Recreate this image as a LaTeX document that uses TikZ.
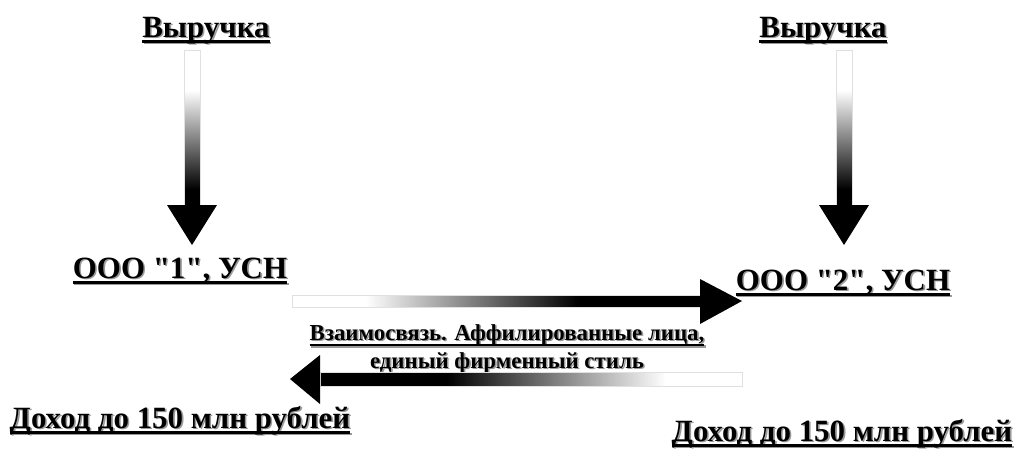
\documentclass[tikz,border=0pt]{standalone}
\usepackage{fontspec}
\setmainfont{Liberation Serif}
\usepackage{xcolor}
\usepackage{tikz}
\usetikzlibrary{calc}

% the path covers 25bp..75bp of a shading
\pgfdeclareverticalshading{vfade}{100bp}{color(0bp)=(black); color(30bp)=(black); color(62bp)=(white); color(100bp)=(white)}
\pgfdeclareverticalshading{hfade}{100bp}{color(0bp)=(black); color(40bp)=(black); color(66bp)=(white); color(100bp)=(white)}

\newsavebox\ulb
\newcommand{\ulx}[1]{\sbox\ulb{#1}\rlap{\rule[-3.2pt]{\wd\ulb}{1.3pt}}\usebox\ulb}
\newcommand{\shtext}[1]{\rlap{\hspace{0.9pt}\raisebox{-0.9pt}{\textcolor{black!40}{#1}}}#1}

\tikzstyle{lbl} = [inner sep=0pt, anchor=base, font=\bfseries\fontsize{17.6}{21}\selectfont]
\tikzstyle{linklbl} = [inner sep=0pt, align=center, font=\bfseries\fontsize{13}{15.9}\selectfont]
\tikzstyle{shaft} = [draw=black!12, line width=0.4pt]
\tikzstyle{head} = [fill=black]

\begin{document}
\begin{tikzpicture}[x=0.02cm, y=-0.02cm]
  \useasboundingbox (0,0) rectangle (1017,450);

  % Nodes
  \node [lbl] (rev1) at (206,37) {\shtext{\ulx{Выручка}}};
  \node [lbl] (rev2) at (823,37) {\shtext{\ulx{Выручка}}};
  \node [lbl] (org1) at (180,278) {\shtext{\ulx{ООО \textquotedbl1\textquotedbl, УСН}}};
  \node [lbl] (org2) at (843,290) {\shtext{\ulx{ООО \textquotedbl2\textquotedbl, УСН}}};
  \node [linklbl] (link) at (507,350) {\shtext{\ulx{Взаимосвязь. Аффилированные лица,}}\\
    \shtext{\ulx{единый фирменный стиль}}};
  \node [lbl] (inc1) at (180,428) {\shtext{\ulx{Доход до 150 млн рублей}}};
  \node [lbl] (inc2) at (842,441) {\shtext{\ulx{Доход до 150 млн рублей}}};

  % Arrow ends
  \coordinate (in1) at (192,50);
  \coordinate (to1) at (192,245);
  \coordinate (in2) at (844,50);
  \coordinate (to2) at (844,245);
  \coordinate (fwd) at (292,301);
  \coordinate (fwdtip) at (742,301);
  \coordinate (back) at (742,379);
  \coordinate (backtip) at (290,379);

  % Revenue arrows
  \shade [shaft, shading=vfade] ($(in1)+(-8,0)$) rectangle ($(to1)+(8,-40)$);
  \fill [head] ($(to1)+(-25,-40)$) -- (to1) -- ($(to1)+(25,-40)$) -- cycle;
  \shade [shaft, shading=vfade] ($(in2)+(-8,0)$) rectangle ($(to2)+(8,-40)$);
  \fill [head] ($(to2)+(-25,-40)$) -- (to2) -- ($(to2)+(25,-40)$) -- cycle;

  % Link arrows
  \shade [shaft, shading=hfade, shading angle=90] ($(fwd)+(0,-6)$) rectangle ($(fwdtip)+(-42,6)$);
  \fill [head] ($(fwdtip)+(-42,-22)$) -- (fwdtip) -- ($(fwdtip)+(-42,23)$) -- cycle;
  \shade [shaft, shading=hfade, shading angle=-90] ($(back)+(0,-7)$) rectangle ($(backtip)+(30,7)$);
  \fill [head] ($(backtip)+(30,-24)$) -- (backtip) -- ($(backtip)+(30,25)$) -- cycle;
\end{tikzpicture}
\end{document}
